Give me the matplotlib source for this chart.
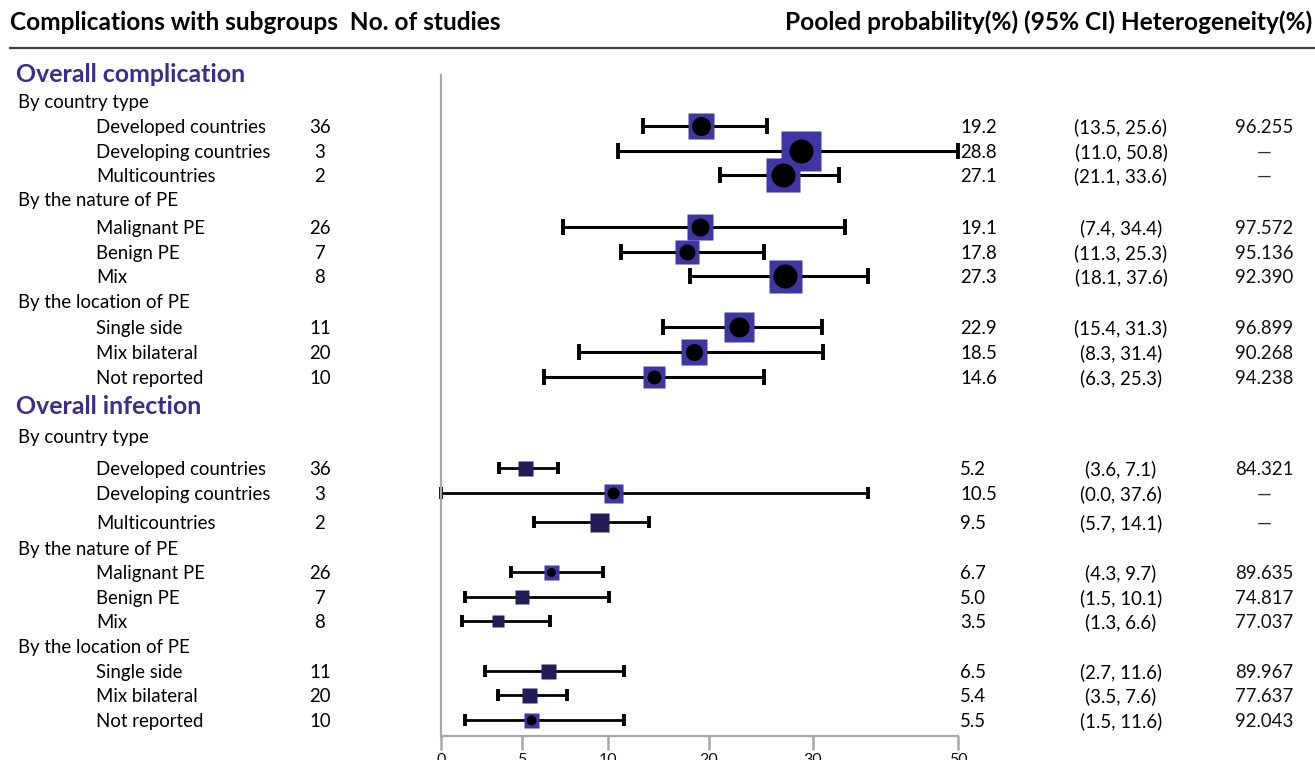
import numpy as np
import matplotlib
matplotlib.use("Agg")
import matplotlib.pyplot as plt
import matplotlib.transforms as mtransforms

plt.rcParams['font.family'] = ['Lato', 'DejaVu Sans']

# ---------------- data ----------------
section_titles = ["Overall complication", "Overall infection"]
group_titles = ["By country type", "By the nature of PE", "By the location of PE"]
subgroups = ["Developed countries", "Developing countries", "Multicountries",
             "Malignant PE", "Benign PE", "Mix",
             "Single side", "Mix bilateral", "Not reported"]

comp_n = [36, 3, 2, 26, 7, 8, 11, 20, 10]
comp_est = [19.2, 28.8, 27.1, 19.1, 17.8, 27.3, 22.9, 18.5, 14.6]
comp_lo = [13.5, 11.0, 21.1, 7.4, 11.3, 18.1, 15.4, 8.3, 6.3]
comp_hi = [25.6, 50.8, 33.6, 34.4, 25.3, 37.6, 31.3, 31.4, 25.3]
comp_het = ["96.255", "\u2014", "\u2014", "97.572", "95.136", "92.390", "96.899", "90.268", "94.238"]

inf_n = [36, 3, 2, 26, 7, 8, 11, 20, 10]
inf_est = [5.2, 10.5, 9.5, 6.7, 5.0, 3.5, 6.5, 5.4, 5.5]
inf_lo = [3.6, 0.0, 5.7, 4.3, 1.5, 1.3, 2.7, 3.5, 1.5]
inf_hi = [7.1, 37.6, 14.1, 9.7, 10.1, 6.6, 11.6, 7.6, 11.6]
inf_het = ["84.321", "\u2014", "\u2014", "89.635", "74.817", "77.037", "89.967", "77.637", "92.043"]

tick_values = [0, 5, 10, 20, 30, 50]

# ---------------- layout / style ----------------
W, H = 1315, 760
DPI = 100
tick_pos_px = [0, 81, 167, 268, 372, 517]   # on-screen spacing of the (non-linear) axis ticks

# row centres (pixels from top)
title_y = [73, 405]
group_y = [[101, 199, 301], [436, 548, 646]]
comp_y = [126, 151, 175, 227, 252, 276, 327, 352, 377]
inf_y = [468, 493, 522, 572, 597, 621, 671, 695, 720]

comp_sq = [27, 40, 34, 27, 24, 33, 30, 26, 22]
comp_dot = [19, 24, 24, 18, 16, 24, 20, 17, 14]
inf_sq = [15, 19, 19, 15, 14, 12, 15, 15, 15]
inf_dot = [0, 12, 0, 9, 0, 0, 0, 0, 10]

BLUE = "#3f36a3"
NAVY = "#221c5a"
TITLE = "#3a2d8f"
GRAY = "#a8a8a8"

tp = np.array(tick_pos_px, float)
tv = np.array(tick_values, float)
S_LO = (tp[1] - tp[0]) / (tv[1] - tv[0])
S_HI = 0.5  # the reference draws values past 50 hugging the axis end


def fwd(x):
    x = np.asarray(x, float)
    y = np.interp(x, tv, tp)
    y = np.where(x < tv[0], tp[0] + (x - tv[0]) * S_LO, y)
    y = np.where(x > tv[-1], tp[-1] + (x - tv[-1]) * S_HI, y)
    return y


def inv(y):
    y = np.asarray(y, float)
    x = np.interp(y, tp, tv)
    x = np.where(y < tp[0], tv[0] + (y - tp[0]) / S_LO, x)
    x = np.where(y > tp[-1], tv[-1] + (y - tp[-1]) / S_HI, x)
    return x


fig = plt.figure(figsize=(W / DPI, H / DPI), dpi=DPI)
ax_left, ax_right, ax_top, ax_bot = 441, 958, 75, 736
ax = fig.add_axes([ax_left / W, (H - ax_bot) / H, (ax_right - ax_left) / W, (ax_bot - ax_top) / H])
ax.set_xscale('function', functions=(fwd, inv))
ax.set_xlim(0, 50)
ax.set_ylim(ax_bot, ax_top)
for s in ['top', 'right']:
    ax.spines[s].set_visible(False)
for s in ['left', 'bottom']:
    ax.spines[s].set_color(GRAY)
    ax.spines[s].set_linewidth(1.6)
ax.set_yticks([])
ax.set_xticks(tick_values)
ax.set_xticklabels([str(t) for t in tick_values])
ax.xaxis.set_minor_locator(matplotlib.ticker.NullLocator())
ax.tick_params(axis='x', direction='out', length=10, width=1.8, color=GRAY,
               labelsize=11.5, pad=2, labelcolor='#111111')
ax.patch.set_visible(False)


def draw_row(y, est, lo, hi, sq, dot, sqcolor, capsize, lw):
    ax.errorbar([est], [y], xerr=[[est - lo], [hi - est]], fmt='none', ecolor='black',
                elinewidth=lw, capsize=capsize, capthick=2.8, clip_on=False, zorder=2)
    ax.plot([est], [y], marker='s', ms=sq * 0.72, mfc=sqcolor, mec='none',
            linestyle='none', clip_on=False, zorder=3)
    if dot > 0:
        ax.plot([est], [y], marker='o', ms=dot * 0.72, mfc='black', mec='none',
                linestyle='none', clip_on=False, zorder=4)


for i in range(len(subgroups)):
    draw_row(comp_y[i], comp_est[i], comp_lo[i], comp_hi[i], comp_sq[i], comp_dot[i],
             BLUE, 6.0, 2.2)
    draw_row(inf_y[i], inf_est[i], inf_lo[i], inf_hi[i], inf_sq[i], inf_dot[i],
             BLUE if inf_dot[i] > 0 else NAVY, 4.3, 2.0)

# ---------------- text ----------------
trans = mtransforms.blended_transform_factory(
    mtransforms.Affine2D().scale(1.0 / W, 1.0) + fig.transFigure, ax.transData)

FS = 13.4
CAP = 0.72 * DPI / 72.0  # cap height (px) per point of font size, Lato


def base(y, fs):
    """baseline (pixel row) for text whose capitals are centred on row y"""
    return y + 0.5 * CAP * fs


HFS = 17.6
fig.text(10 / W, 1 - base(21, HFS) / H, "Complications with subgroups  No. of studies",
         fontsize=HFS, fontweight='bold', va='baseline', ha='left')
fig.text(1312 / W, 1 - base(21, HFS) / H, "Pooled probability(%) (95% CI) Heterogeneity(%)",
         fontsize=HFS, fontweight='bold', va='baseline', ha='right')
fig.add_artist(plt.Line2D([10 / W, 1.0], [1 - 48 / H, 1 - 48 / H], color='#404040',
                          lw=1.6, transform=fig.transFigure))

TFS = 17.9
for k, (ty, ns, ests, los, his, hets, ys) in enumerate([
        (title_y[0], comp_n, comp_est, comp_lo, comp_hi, comp_het, comp_y),
        (title_y[1], inf_n, inf_est, inf_lo, inf_hi, inf_het, inf_y)]):
    ax.text(16, base(ty, TFS), section_titles[k], transform=trans, fontsize=TFS,
            fontweight='bold', color=TITLE, va='baseline', ha='left')
    for g in range(3):
        ax.text(18, base(group_y[k][g], FS), group_titles[g], transform=trans, fontsize=FS,
                va='baseline', ha='left')
    for i in range(len(subgroups)):
        yb = base(ys[i], FS)
        ax.text(96, yb, subgroups[i], transform=trans, fontsize=FS, va='baseline', ha='left')
        ax.text(320, yb, str(ns[i]), transform=trans, fontsize=FS, va='baseline', ha='center')
        ax.text(960, yb, f"{ests[i]:.1f}", transform=trans, fontsize=FS, va='baseline', ha='left')
        ax.text(1121, yb, f"({los[i]:.1f}, {his[i]:.1f})", transform=trans, fontsize=FS,
                va='baseline', ha='center')
        ax.text(1264, yb, hets[i], transform=trans, fontsize=FS, va='baseline', ha='center',
                color='#111111' if hets[i] != "\u2014" else '#333333')

fig.savefig("out.png", dpi=DPI, facecolor='white')
